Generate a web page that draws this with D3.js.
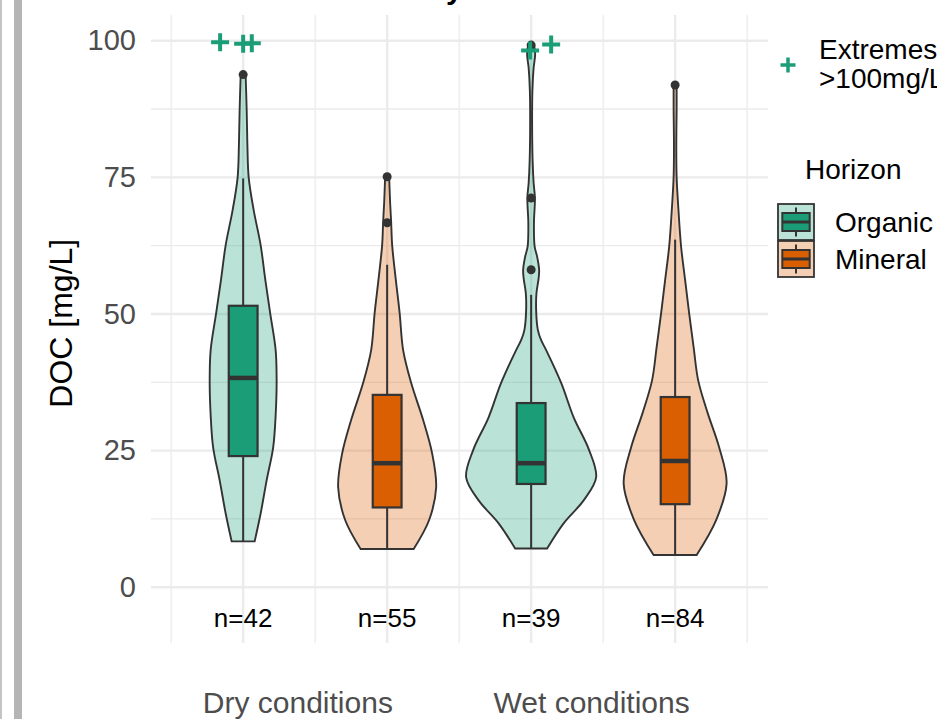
<!DOCTYPE html>
<html>
<head>
<meta charset="utf-8">
<script src="https://cdn.jsdelivr.net/npm/d3@7"></script>
<style>
body { margin: 0; background: #fff; }
svg { display: block; font-family: "Liberation Sans", Arial, sans-serif; }
</style>
</head>
<body>
<svg id="chart" width="937" height="719"></svg>
<script>
// groups, in drawing order
var groupPos = [1, 2, 3, 4];
var horizon = ['Organic', 'Mineral', 'Organic', 'Mineral'];
var counts = [42, 55, 39, 84];
var conditions = ['Dry conditions', 'Wet conditions'];
var conditionPos = [1.38, 3.42];
var yTicks = [0, 25, 50, 75, 100];
var yMinor = [12.5, 37.5, 62.5, 87.5];
var xMinor = [0.5, 1.5, 2.5, 3.5, 4.5];
var title = 'DOC by horizon';

// box stats, DOC mg/L
var boxLow = [8.4, 7.0, 7.1, 5.9];
var boxQ1 = [24.0, 14.6, 18.9, 15.2];
var boxMed = [38.3, 22.7, 22.7, 23.1];
var boxQ3 = [51.5, 35.2, 33.7, 34.8];
var boxHigh = [74.8, 59.0, 53.5, 63.6];
var outliers = [[93.8], [75.1, 66.7], [58.1, 71.2, 99.2], [91.9]];

// values >100 mg/L, drawn at the top with jitter [dx, y]
var extremes = [
    [[-0.16, 99.7], [0.0, 99.45], [0.06, 99.55]],
    [],
    [[-0.007, 98.2], [0.139, 99.3]],
    []
];

// violin density profiles [DOC, relative density]
var densDryOrganic = [[8.4, 0.177], [13.5, 0.269], [19.6, 0.362], [25.6, 0.462], [31.5, 0.50], [37.9, 0.515],
    [43.4, 0.50], [50.2, 0.415], [56.5, 0.338], [62.6, 0.269], [69, 0.162], [75, 0.085], [81, 0.065],
    [87.4, 0.054], [93.8, 0.038]];
var densDryMineral = [[7.0, 0.408], [12.3, 0.646], [18.3, 0.754], [24.5, 0.692], [30.6, 0.554], [37.4, 0.369],
    [43.4, 0.246], [50.2, 0.192], [56.5, 0.131], [62.6, 0.077], [66.7, 0.062], [70.3, 0.046], [75.1, 0.031]];
var densWetOrganic = [[7.1, 0.246], [11.7, 0.50], [15.9, 0.808], [20.1, 1.0], [25.1, 0.892], [31.1, 0.654],
    [37.4, 0.462], [43.4, 0.231], [45.2, 0.154], [47.1, 0.103], [50.7, 0.077], [53.8, 0.082], [56.5, 0.115],
    [58.1, 0.123], [60.5, 0.092], [62.3, 0.054], [66.6, 0.043], [71.2, 0.058], [74, 0.038], [78, 0.023],
    [85, 0.015], [91, 0.02], [95, 0.038], [97.5, 0.062], [99.2, 0.046]];
var densWetMineral = [[5.9, 0.331], [12.3, 0.631], [19.0, 0.792], [25.6, 0.677], [31.9, 0.5], [37.9, 0.354],
    [43.9, 0.285], [50.2, 0.215], [56.2, 0.154], [62.3, 0.092], [68.5, 0.054], [75.1, 0.023], [81, 0.018],
    [87.4, 0.023], [91.9, 0.023]];
var densities = [densDryOrganic, densDryMineral, densWetOrganic, densWetMineral];

var colors = { Organic: '#1b9e77', Mineral: '#d95f02' };
var ink = '#333333';

var svg = d3.select('#chart');
var x = d3.scaleLinear().domain([0.36, 4.645]).range([151, 768]);
var y = d3.scaleLinear().domain([-10.2, 104.7]).range([643, 15]);
var dw = d3.scaleLinear().domain([0, 1]).range([0, 65]);
var boxHalf = 0.1;

// page edge bars
svg.append('rect').attr('x', 0).attr('y', 0).attr('width', 2).attr('height', 719).attr('fill', '#c4c4c4');
svg.append('rect').attr('x', 14).attr('y', 0).attr('width', 8).attr('height', 719).attr('fill', '#b5b5b5');

// title (mostly above the page)
var t = svg.append('text').attr('y', -1).attr('font-size', 30).attr('font-weight', 'bold')
    .attr('fill', '#000').text(title);
var off = t.node().getSubStringLength(0, title.indexOf('y'));
t.attr('x', 446 - off);

// grid
var grid = svg.append('g');
grid.selectAll('.ymin').data(yMinor).enter().append('line')
    .attr('x1', x.range()[0]).attr('x2', x.range()[1])
    .attr('y1', d => y(d)).attr('y2', d => y(d))
    .attr('stroke', '#ebebeb').attr('stroke-width', 1.3);
grid.selectAll('.xmin').data(xMinor).enter().append('line')
    .attr('y1', y.range()[0]).attr('y2', y.range()[1])
    .attr('x1', d => x(d)).attr('x2', d => x(d))
    .attr('stroke', '#ebebeb').attr('stroke-width', 1.3);
grid.selectAll('.ymaj').data(yTicks).enter().append('line')
    .attr('x1', x.range()[0]).attr('x2', x.range()[1])
    .attr('y1', d => y(d)).attr('y2', d => y(d))
    .attr('stroke', '#ebebeb').attr('stroke-width', 2.4);
grid.selectAll('.xmaj').data(groupPos).enter().append('line')
    .attr('y1', y.range()[0]).attr('y2', y.range()[1])
    .attr('x1', d => x(d)).attr('x2', d => x(d))
    .attr('stroke', '#ebebeb').attr('stroke-width', 2.4);

// y axis labels
var yAxis = svg.append('g').attr('transform', 'translate(' + x.range()[0] + ',0)')
    .call(d3.axisLeft(y).tickValues(yTicks).tickSize(0).tickPadding(15));
yAxis.select('.domain').remove();
yAxis.selectAll('text').attr('font-size', 29).attr('fill', '#4d4d4d')
    .attr('font-family', '"Liberation Sans", Arial, sans-serif');

svg.append('text').attr('transform', 'translate(72,' + y(48.3) + ') rotate(-90)')
    .attr('text-anchor', 'middle').attr('font-size', 32).attr('fill', '#000').text('DOC [mg/L]');

// x labels
svg.selectAll('.cond').data(conditions).enter().append('text')
    .attr('x', (d, i) => x(conditionPos[i])).attr('y', 713)
    .attr('text-anchor', 'middle').attr('font-size', 30).attr('fill', '#4d4d4d')
    .text(d => d);

// violins
var plot = svg.append('g');
densities.forEach(function (dens, i) {
    var cx = x(groupPos[i]);
    var area = d3.area().curve(d3.curveCatmullRom)
        .y(d => y(d[0]))
        .x0(d => cx - dw(d[1]))
        .x1(d => cx + dw(d[1]));
    plot.append('path').datum(dens).attr('d', area)
        .attr('fill', colors[horizon[i]]).attr('fill-opacity', 0.3)
        .attr('stroke', ink).attr('stroke-width', 1.9);
});

// boxplots
groupPos.forEach(function (p, i) {
    var g = plot.append('g');
    var cx = x(p);
    g.append('line').attr('x1', cx).attr('x2', cx).attr('y1', y(boxLow[i])).attr('y2', y(boxQ1[i]))
        .attr('stroke', ink).attr('stroke-width', 2);
    g.append('line').attr('x1', cx).attr('x2', cx).attr('y1', y(boxQ3[i])).attr('y2', y(boxHigh[i]))
        .attr('stroke', ink).attr('stroke-width', 2);
    g.append('rect').attr('x', x(p - boxHalf)).attr('width', x(p + boxHalf) - x(p - boxHalf))
        .attr('y', y(boxQ3[i])).attr('height', y(boxQ1[i]) - y(boxQ3[i]))
        .attr('fill', colors[horizon[i]]).attr('stroke', ink).attr('stroke-width', 2.2);
    g.append('line').attr('x1', x(p - boxHalf)).attr('x2', x(p + boxHalf))
        .attr('y1', y(boxMed[i])).attr('y2', y(boxMed[i]))
        .attr('stroke', ink).attr('stroke-width', 4.5);
    g.selectAll('circle').data(outliers[i]).enter().append('circle')
        .attr('cx', cx).attr('cy', d => y(d)).attr('r', 4.5).attr('fill', ink);
});

// extremes >100 mg/L
var plus = 'M-9,0H9M0,-9V9';
groupPos.forEach(function (p, i) {
    plot.selectAll(null).data(extremes[i]).enter().append('path')
        .attr('transform', d => 'translate(' + x(p + d[0]) + ',' + y(d[1]) + ')')
        .attr('d', plus).attr('stroke', colors.Organic).attr('stroke-width', 4).attr('fill', 'none');
});

// counts
svg.selectAll('.cnt').data(counts).enter().append('text')
    .attr('x', (d, i) => x(groupPos[i])).attr('y', 627)
    .attr('text-anchor', 'middle').attr('font-size', 26).attr('fill', '#000')
    .text(d => 'n=' + d);

// legend
var leg = svg.append('g');
leg.append('path').attr('transform', 'translate(788,65)').attr('d', 'M-7.5,0H7.5M0,-7.5V7.5')
    .attr('stroke', colors.Organic).attr('stroke-width', 3.5);
leg.append('text').attr('x', 819).attr('y', 59).attr('font-size', 28).text('Extremes');
leg.append('text').attr('x', 819).attr('y', 88).attr('font-size', 28).text('>100mg/L');
leg.append('text').attr('x', 805).attr('y', 179).attr('font-size', 28).text('Horizon');

['Organic', 'Mineral'].forEach(function (h, i) {
    var ky = 204 + i * 37, kx = 778, ks = 36;
    var k = leg.append('g').attr('transform', 'translate(' + kx + ',' + ky + ')');
    k.append('rect').attr('width', ks).attr('height', ks)
        .attr('fill', colors[h]).attr('fill-opacity', 0.3).attr('stroke', ink).attr('stroke-width', 1.8);
    k.append('line').attr('x1', ks / 2).attr('x2', ks / 2).attr('y1', ks * 0.1).attr('y2', ks * 0.9)
        .attr('stroke', ink).attr('stroke-width', 2);
    k.append('rect').attr('x', ks * 0.12).attr('width', ks * 0.76).attr('y', ks * 0.25).attr('height', ks * 0.5)
        .attr('fill', colors[h]).attr('stroke', ink).attr('stroke-width', 2);
    k.append('line').attr('x1', ks * 0.12).attr('x2', ks * 0.88).attr('y1', ks / 2).attr('y2', ks / 2)
        .attr('stroke', ink).attr('stroke-width', 3);
    leg.append('text').attr('x', 835).attr('y', ky + ks / 2 + 10).attr('font-size', 28).text(h);
});
</script>
</body>
</html>
